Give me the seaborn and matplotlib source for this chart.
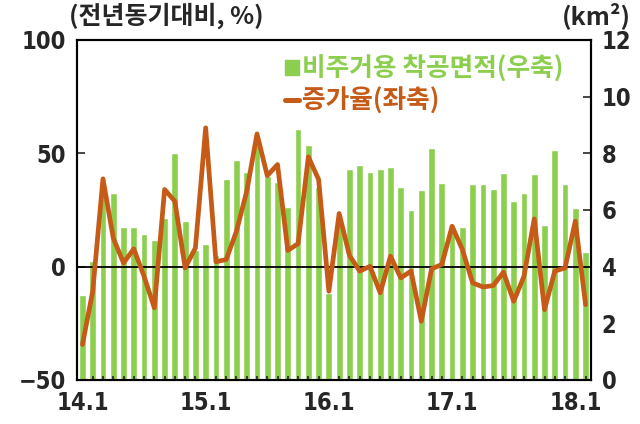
import matplotlib
matplotlib.use("Agg")
import matplotlib.pyplot as plt
import seaborn as sns
import pandas as pd
from matplotlib.lines import Line2D
from matplotlib.patches import Patch
from matplotlib.font_manager import FontProperties

# monthly data 14.1 ~ 18.2
months = [f"{y}.{m}" for y in range(14, 19) for m in range(1, 13)][:50]
area = [3.0, 4.2, 6.6, 6.6, 5.4, 5.4, 5.15, 4.95, 5.7, 8.0,
        5.6, 4.6, 4.8, 4.4, 7.1, 7.75, 7.35, 8.3, 7.2, 7.0,
        6.1, 8.85, 8.3, 6.8, 3.05, 5.7, 7.45, 7.6, 7.35, 7.45,
        7.5, 6.8, 6.0, 6.7, 8.2, 6.95, 5.3, 5.4, 6.9, 6.9,
        6.75, 7.3, 6.3, 6.6, 7.25, 5.45, 8.1, 6.9, 6.05, 4.5]
rate = [-34.4, -10.9, 38.7, 12.6, 1.6, 7.8, -4.3, -18.2, 34.0, 28.8,
        -0.6, 8.2, 61.2, 2.1, 3.1, 15.6, 33.2, 58.5, 40.1, 45.0,
        7.1, 10.1, 48.4, 38.4, -10.9, 23.4, 4.9, -2.0, 0.1, -11.6,
        4.6, -5.0, -2.0, -24.1, -1.0, 0.9, 17.8, 7.5, -7.2, -9.0,
        -8.4, -2.5, -15.3, -4.3, 21.0, -19.0, -2.0, -0.6, 20.0, -16.8]
tick_labels = ["14.1", "15.1", "16.1", "17.1", "18.1"]

df = pd.DataFrame({"month": months, "area": area, "rate": rate, "pos": range(len(months))})

green = "#8ccf4f"
brown = "#c65a17"

sns.set_style("white")
plt.rcParams["font.family"] = ["Noto Sans CJK KR", "DejaVu Sans"]
plt.rcParams["font.weight"] = "bold"

fig = plt.figure(figsize=(6.4, 4.24), dpi=100)
ax = fig.add_axes([0.120, 0.104, 0.803, 0.802])
ax2 = ax.twinx()

sns.barplot(data=df, x="pos", y="area", ax=ax2, color=green, width=0.66,
            saturation=1, native_scale=True)
ax2.set_ylim(0, 12)
ax2.set_yticks(range(0, 13, 2))

ax.axhline(0, color="black", lw=1.3, zorder=1)
sns.lineplot(data=df, x="pos", y="rate", ax=ax, color=brown, lw=3.4, zorder=3)
ax.set_ylim(-50, 100)
ax.set_yticks([-50, 0, 50, 100])
ax.set_zorder(ax2.get_zorder() + 1)
ax.patch.set_visible(False)

ax.set_xlim(-0.55, 49.5)
ax.set_xticks([0, 12, 24, 36, 48])
ax.set_xticklabels(tick_labels)
ax.set_xticks(range(50), minor=True)
ax.set_xlabel("")
ax.set_ylabel("")
ax2.set_xlabel("")
ax2.set_ylabel("")

tick_font = FontProperties(family=["DejaVu Sans"], size=17, weight="bold", stretch="condensed")
for lab in ax.get_xticklabels() + ax.get_yticklabels() + ax2.get_yticklabels():
    lab.set_fontproperties(tick_font)

ax.tick_params(axis="y", direction="in", length=6, width=1.2, pad=8)
ax2.tick_params(axis="y", direction="in", length=6, width=1.2, pad=8)
ax.tick_params(axis="x", which="major", direction="in", length=0, pad=8)
ax.tick_params(axis="x", which="minor", direction="in", length=3, width=1.2)
ax.tick_params(axis="x", which="both", bottom=True, top=False)
ax2.tick_params(axis="x", bottom=False, top=False)

for a in (ax, ax2):
    for s in a.spines.values():
        s.set_color("black")
        s.set_linewidth(1.5)
        s.set_visible(True)

handles = [Patch(color=green), Line2D([0], [0], color=brown, lw=3.6)]
leg = ax.legend(handles, ["비주거용 착공면적(우축)", "증가율(좌축)"],
                loc="upper left", bbox_to_anchor=(0.385, 0.985), frameon=False,
                prop=dict(family=["Noto Sans CJK KR", "DejaVu Sans"], size=18.5, weight="bold"),
                handlelength=0.55, handleheight=0.55, handletextpad=0.1,
                labelspacing=0.2, borderaxespad=0)
for txt, c in zip(leg.get_texts(), [green, brown]):
    txt.set_color(c)

fig.text(0.108, 0.962, "(전년동기대비, %)", fontsize=18, fontweight="bold", ha="left", va="center")
fig.text(0.985, 0.962, "(km²)", fontsize=18, fontweight="bold", ha="right", va="center")

fig.savefig("out.png", dpi=100)
